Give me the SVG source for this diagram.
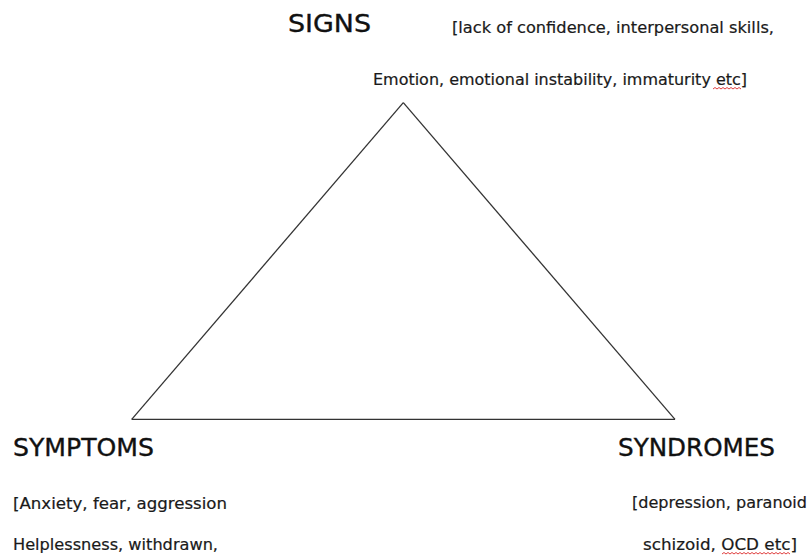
<svg xmlns="http://www.w3.org/2000/svg" width="809" height="556" viewBox="0 0 809 556">
  <style>
    .head { font-family: "Comic Sans MS", "DejaVu Sans", "Liberation Sans", sans-serif; font-size: 24px; fill: #111; stroke: #111; stroke-width: 0.35; }
    .note { font-family: "Comic Sans MS", "DejaVu Sans", "Liberation Sans", sans-serif; font-size: 15.5px; fill: #1a1a1a; stroke: #1a1a1a; stroke-width: 0.2; }
    .edge { stroke: #333; stroke-width: 1.3; fill: none; stroke-linejoin: miter; }
    .squiggle { stroke: #e04040; stroke-width: 1; fill: none; }
  </style>
  <rect width="809" height="556" fill="#ffffff"/>

  <!-- triangle linking the three corners -->
  <g id="connectors">
    <line class="edge" x1="403.3" y1="102.7" x2="131.7" y2="419.3"/>
    <line class="edge" x1="403.3" y1="102.7" x2="675" y2="419.3"/>
    <line class="edge" x1="131.7" y1="419.3" x2="675" y2="419.3"/>
  </g>

  <g id="signs">
    <text class="head" x="288" y="32" textLength="83" lengthAdjust="spacingAndGlyphs">SIGNS</text>
    <text class="note" x="452" y="33" textLength="322" lengthAdjust="spacingAndGlyphs">[lack of confidence, interpersonal skills,</text>
    <text class="note" x="373" y="85" textLength="374" lengthAdjust="spacingAndGlyphs">Emotion, emotional instability, immaturity etc]</text>
    <path class="squiggle" d="M713 89 l2 -1.5 l2 1.5 l2 -1.5 l2 1.5 l2 -1.5 l2 1.5 l2 -1.5 l2 1.5 l2 -1.5 l2 1.5 l2 -1.5 l2 1.5 l2 -1.5 l2 1.5"/>
  </g>

  <g id="symptoms">
    <text class="head" x="13" y="456" textLength="141" lengthAdjust="spacingAndGlyphs">SYMPTOMS</text>
    <text class="note" x="13" y="509" textLength="214" lengthAdjust="spacingAndGlyphs">[Anxiety, fear, aggression</text>
    <text class="note" x="13" y="550" textLength="205" lengthAdjust="spacingAndGlyphs">Helplessness, withdrawn,</text>
  </g>

  <g id="syndromes">
    <text class="head" x="618" y="456" textLength="157" lengthAdjust="spacingAndGlyphs">SYNDROMES</text>
    <text class="note" x="632" y="508" textLength="175" lengthAdjust="spacingAndGlyphs">[depression, paranoid</text>
    <text class="note" x="643" y="550" textLength="154" lengthAdjust="spacingAndGlyphs">schizoid, OCD etc]</text>
    <path class="squiggle" d="M722 554 l2 -1.5 l2 1.5 l2 -1.5 l2 1.5 l2 -1.5 l2 1.5 l2 -1.5 l2 1.5 l2 -1.5 l2 1.5 l2 -1.5 l2 1.5 l2 -1.5 l2 1.5 l2 -1.5 l2 1.5 l2 -1.5 l2 1.5 l2 -1.5 l2 1.5 l2 -1.5 l2 1.5 l2 -1.5 l2 1.5 l2 -1.5 l2 1.5 l2 -1.5 l2 1.5 l2 -1.5 l2 1.5 l2 -1.5 l2 1.5 l2 -1.5 l2 1.5"/>
  </g>
</svg>
